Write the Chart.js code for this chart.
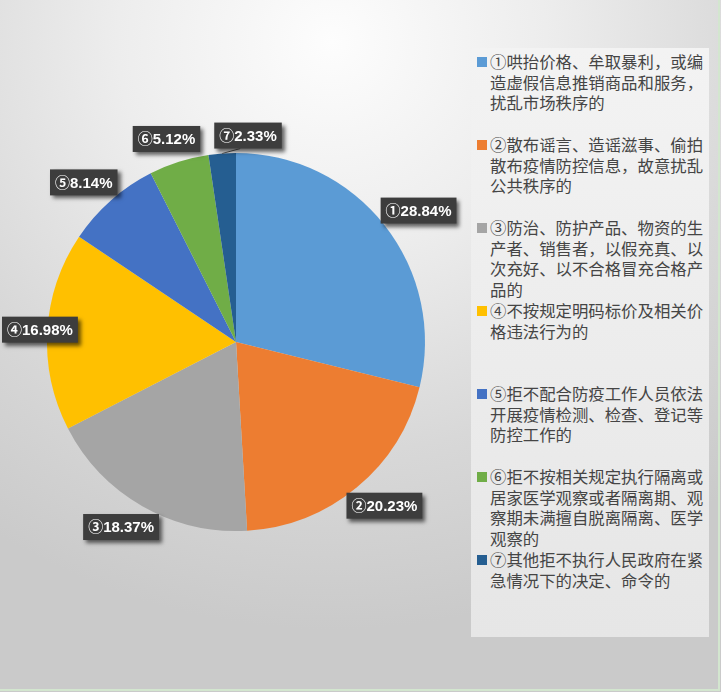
<!DOCTYPE html>
<html>
<head>
<meta charset="utf-8">
<script src="https://cdn.jsdelivr.net/npm/chart.js@4.4.1/dist/chart.umd.min.js"></script>
<style>
  html, body { margin: 0; padding: 0; }
  body {
    width: 721px; height: 692px; overflow: hidden; position: relative;
    background: radial-gradient(ellipse 85% 85% at 46% 6%, #fdfdfd 0%, #ededed 35%, #d8d8d8 70%, #cacaca 100%);
  }
  #frame { position: absolute; left: 0; top: 0; width: 718px; height: 689px;
    border-right: 2px solid #d3e6cf; border-bottom: 2px solid #d3e6cf; }
  canvas { position: absolute; left: 0; top: 0; }
  #legend {
    position: absolute; left: 471px; top: 48px; width: 238px; height: 589px;
    background: linear-gradient(#f3f3f3, #e6e6e6);
    font-family: "Noto Sans CJK SC", sans-serif; font-size: 16.4px; color: #454545;
  }
  .item { position: absolute; left: 0; width: 238px; }
  .sw { position: absolute; left: 6px; top: 6px; width: 10px; height: 10px; }
  .txt { position: absolute; left: 19px; line-height: 20.5px; white-space: nowrap; }
</style>
</head>
<body>
<div id="frame"></div>
<canvas id="pie" width="721" height="692"></canvas>
<div id="legend"></div>
<script>
// 各类违法行为占比
const marks = ['①', '②', '③', '④', '⑤', '⑥', '⑦'];
const shares = [28.84, 20.23, 18.37, 16.98, 8.14, 5.12, 2.33];
const colors = ['#5B9BD5', '#ED7D31', '#A5A5A5', '#FFC000', '#4472C4', '#70AD47', '#255E91'];
const categories = [
    ['①哄抬价格、牟取暴利，或编', '造虚假信息推销商品和服务，', '扰乱市场秩序的'],
    ['②散布谣言、造谣滋事、偷拍', '散布疫情防控信息，故意扰乱', '公共秩序的'],
    ['③防治、防护产品、物资的生', '产者、销售者，以假充真、以', '次充好、以不合格冒充合格产', '品的'],
    ['④不按规定明码标价及相关价', '格违法行为的'],
    ['⑤拒不配合防疫工作人员依法', '开展疫情检测、检查、登记等', '防控工作的'],
    ['⑥拒不按相关规定执行隔离或', '居家医学观察或者隔离期、观', '察期未满擅自脱离隔离、医学', '观察的'],
    ['⑦其他拒不执行人民政府在紧', '急情况下的决定、命令的']
];

// 数据标签（深色底框 + 白字）
const boxLabels = {
    id: 'boxLabels',
    afterDatasetsDraw(chart) {
        const ctx = chart.ctx;
        const meta = chart.getDatasetMeta(0);
        ctx.save();
        ctx.font = 'bold 15px "Liberation Sans", "Noto Sans CJK SC", sans-serif';
        ctx.textBaseline = 'middle';
        ctx.textAlign = 'center';
        let prev = null;
        meta.data.forEach(function (arc, i) {
            const p = arc.getProps(['x', 'y', 'startAngle', 'endAngle', 'outerRadius'], true);
            const mid = (p.startAngle + p.endAngle) / 2;
            const text = marks[i] + shares[i].toFixed(2) + '%';
            const w = ctx.measureText(text).width + 10;
            const h = 26;
            // 框越宽，水平方向离饼越远
            let cx = p.x + Math.cos(mid) * (p.outerRadius + 24 + w / 4);
            let cy = p.y + Math.sin(mid) * (p.outerRadius + 24);
            if (cx - w / 2 < 2) cx = 2 + w / 2;
            let moved = false;
            // 与上一个标签重叠时向右挪开
            if (prev && Math.abs(cy - prev.cy) < h &&
                cx - w / 2 < prev.cx + prev.w / 2 + 14 && cx + w / 2 > prev.cx - prev.w / 2) {
                cx = prev.cx + prev.w / 2 + 14 + w / 2;
                cy = cy + 6;
                moved = true;
            }
            if (moved) {
                ctx.strokeStyle = '#595959';
                ctx.lineWidth = 1;
                ctx.beginPath();
                ctx.moveTo(cx - w / 2 + 26, cy + h / 2);
                ctx.lineTo(p.x + Math.cos(mid) * p.outerRadius, p.y + Math.sin(mid) * p.outerRadius);
                ctx.stroke();
            }
            ctx.shadowColor = 'rgba(0,0,0,0.6)';
            ctx.shadowBlur = 4;
            ctx.shadowOffsetX = 3;
            ctx.shadowOffsetY = 3;
            ctx.fillStyle = '#3d3d3d';
            ctx.fillRect(cx - w / 2, cy - h / 2, w, h);
            ctx.shadowColor = 'transparent';
            ctx.fillStyle = '#ffffff';
            ctx.fillText(text, cx, cy + 1);
            prev = { cx: cx, cy: cy, w: w };
        });
        ctx.restore();
    }
};

const chart = new Chart(document.getElementById('pie'), {
    type: 'pie',
    data: {
        labels: categories,
        datasets: [{
            data: shares,
            backgroundColor: colors,
            borderWidth: 0
        }]
    },
    options: {
        responsive: false,
        animation: false,
        layout: { padding: { left: 47, right: 296, top: 153, bottom: 161 } },
        plugins: {
            legend: { display: false },
            tooltip: { enabled: false }
        }
    },
    plugins: [boxLabels]
});

// 图例
const legend = document.getElementById('legend');
categories.forEach(function (lines, i) {
    const item = document.createElement('div');
    item.className = 'item';
    item.style.top = (i * 83 + 3) + 'px';
    const sw = document.createElement('div');
    sw.className = 'sw';
    sw.style.background = chart.data.datasets[0].backgroundColor[i];
    const txt = document.createElement('div');
    txt.className = 'txt';
    txt.innerHTML = lines.join('<br>');
    item.appendChild(sw);
    item.appendChild(txt);
    legend.appendChild(item);
});
</script>
</body>
</html>
